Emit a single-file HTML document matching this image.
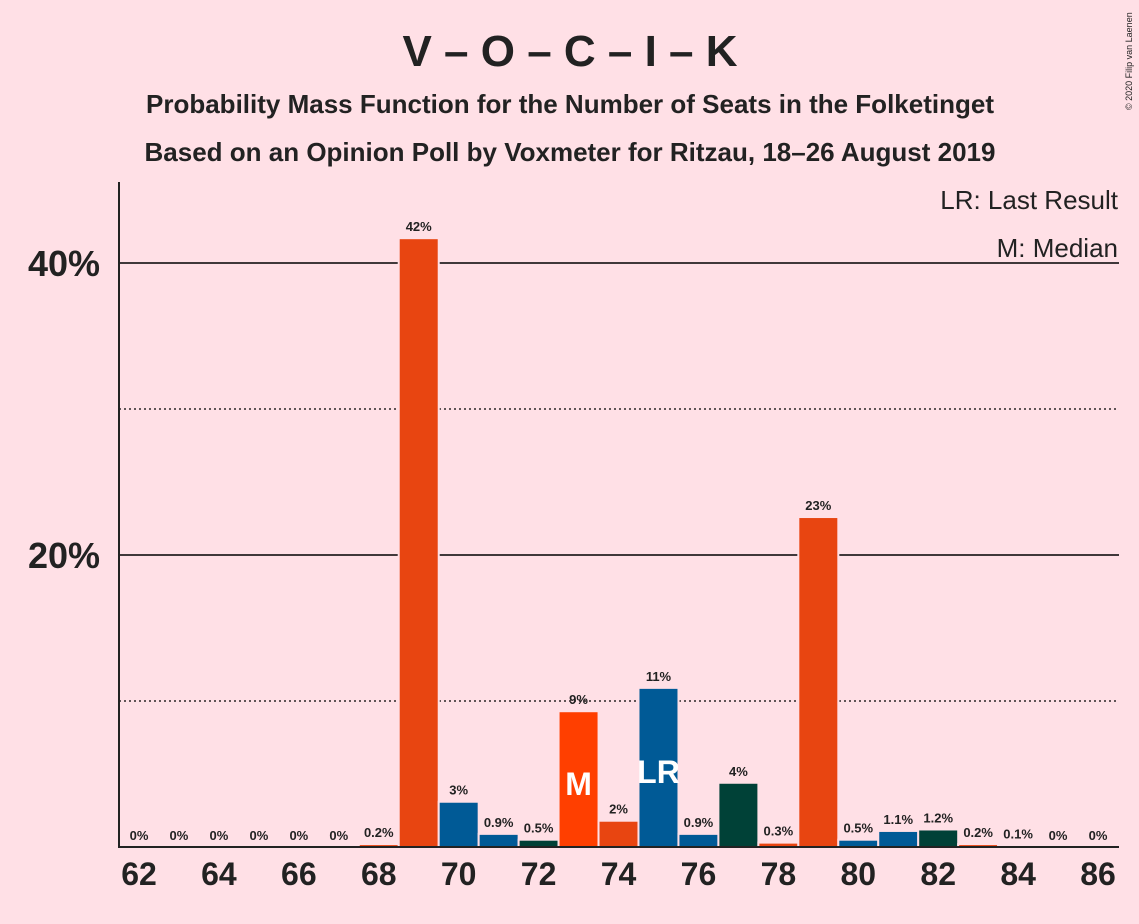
<!DOCTYPE html>
<html><head><meta charset="utf-8"><style>
body{margin:0;background:#FFE0E6;}
svg{display:block;font-family:"Liberation Sans",sans-serif;}
</style></head><body>
<svg id="c" width="1139" height="924" viewBox="0 0 1139 924">
<rect width="1139" height="924" fill="#FFE0E6"/>
<text x="570" y="66" text-anchor="middle" font-size="44" font-weight="bold" fill="#222">V – O – C – I – K</text>
<text x="570" y="113" text-anchor="middle" font-size="26" font-weight="bold" fill="#222">Probability Mass Function for the Number of Seats in the Folketinget</text>
<text x="570" y="161" text-anchor="middle" font-size="26" font-weight="bold" fill="#222">Based on an Opinion Poll by Voxmeter for Ritzau, 18–26 August 2019</text>
<text x="1132" y="110" font-size="9" fill="#222" transform="rotate(-90 1132 110)">© 2020 Filip van Laenen</text>
<g id="grid"></g>
<g id="bars"></g>
<g id="xt"></g>
<line x1="119" y1="182" x2="119" y2="848" stroke="#222" stroke-width="2"/>
<line x1="118" y1="847" x2="1119" y2="847" stroke="#222" stroke-width="2"/>
<text x="1118" y="209" text-anchor="end" font-size="26" fill="#222">LR: Last Result</text>
<text x="1118" y="257" text-anchor="end" font-size="26" fill="#222">M: Median</text>
</svg>
<script>
const seats=[62,63,64,65,66,67,68,69,70,71,72,73,74,75,76,77,78,79,80,81,82,83,84,85,86];
const values=[0,0,0,0,0,0,0.2,41.7,3.1,0.9,0.5,9.3,1.8,10.9,0.9,4.4,0.3,22.6,0.5,1.1,1.2,0.2,0.1,0,0];
const labels=["0%","0%","0%","0%","0%","0%","0.2%","42%","3%","0.9%","0.5%","9%","2%","11%","0.9%","4%","0.3%","23%","0.5%","1.1%","1.2%","0.2%","0.1%","0%","0%"];
const colors=["#E84511","#E84511","#E84511","#E84511","#E84511","#E84511","#E84511","#E84511","#005A96","#005A96","#004137","#FF3F00","#E84511","#005A96","#005A96","#004137","#E84511","#E84511","#005A96","#005A96","#004137","#E84511","#005A96","#005A96","#005A96"];
const yTicks=[10,20,30,40];
const yTickLabels=["","20%","","40%"];
const xTickSeats=[62,64,66,68,70,72,74,76,78,80,82,84,86];
const medianSeat=73, lastResultSeat=75;
const ns="http://www.w3.org/2000/svg";
const X=s=>139+(s-62)*39.96;
const Y=v=>847-v*14.6;
function mk(t,a,p){const e=document.createElementNS(ns,t);for(const k in a)e.setAttribute(k,a[k]);p.appendChild(e);return e;}
const grid=document.getElementById('grid');
yTicks.forEach((t,i)=>{
  const l=mk('line',{x1:119,x2:1119,y1:Y(t),y2:Y(t),stroke:'#000','stroke-width':t%20===0?1.6:1.2},grid);
  if(t%20!==0)l.setAttribute('stroke-dasharray','2,3');
  
  
  if(yTickLabels[i]){const tx=mk('text',{x:100,y:Y(t)+13,'text-anchor':'end','font-size':36,'font-weight':'bold',fill:'#222'},grid);tx.textContent=yTickLabels[i];
  
  }
});
const bars=document.getElementById('bars');
seats.forEach((s,i)=>{
  const v=values[i];
  if(v>0){const r=mk('rect',{x:X(s)-20,y:Y(v),width:40,height:847-Y(v),fill:colors[i],stroke:'#FFE0E6','stroke-width':2},bars);
  
  }
  const t=mk('text',{x:X(s),y:Y(v)-7,'text-anchor':'middle','font-size':13,'font-weight':'bold',fill:'#222'},bars);
  t.textContent=labels[i];
  
  
  if(s===medianSeat||s===lastResultSeat){
    const m=mk('text',{x:X(s),y:0,'text-anchor':'middle','font-size':32,'font-weight':'bold',fill:'#fff'},bars);
    m.setAttribute('y',s===medianSeat?795:783);
    m.textContent=s===medianSeat?'M':'LR';
    
    
  }
});
const xt=document.getElementById('xt');
xTickSeats.forEach(s=>{const t=mk('text',{x:X(s),y:885,'text-anchor':'middle','font-size':32,'font-weight':'bold',fill:'#222'},xt);t.textContent=s;

});
</script>
</body></html>
